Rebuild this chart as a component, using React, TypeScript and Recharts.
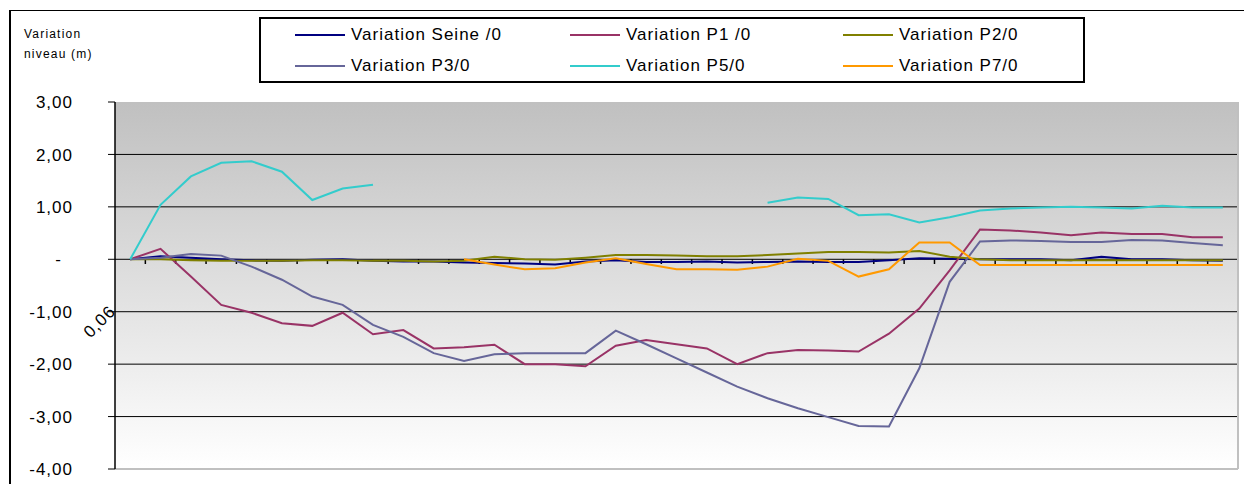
import React from "react";
import {
  LineChart,
  Line,
  XAxis,
  YAxis,
  CartesianGrid,
  ReferenceLine,
} from "recharts";

// 37 relevés (pas de libellés sur l'axe horizontal)
const POINTS = Array.from({ length: 37 }, (_, k) => k);

const SEINE = [
  0, 0.06, 0.03, 0.0, -0.02, -0.03, -0.01, 0.0, -0.03, -0.04, -0.04, -0.06,
  -0.07, -0.08, -0.1, -0.04, -0.02, -0.05, -0.05, -0.04, -0.06, -0.05, -0.04,
  -0.05, -0.05, -0.02, 0.02, 0.01, 0.0, 0.0, 0.0, -0.02, 0.05, 0.0, 0.0, -0.02,
  -0.03,
];
const P1 = [
  0, 0.2, -0.33, -0.87, -1.02, -1.22, -1.27, -1.02, -1.43, -1.35, -1.7, -1.68,
  -1.63, -2.0, -2.0, -2.04, -1.65, -1.54, -1.62, -1.7, -2.0, -1.79, -1.73,
  -1.74, -1.76, -1.42, -0.94, -0.21, 0.57, 0.55, 0.51, 0.46, 0.51, 0.48, 0.48,
  0.42, 0.42,
];
const P2 = [
  0, 0.0, -0.02, -0.03, -0.03, -0.03, -0.02, -0.02, -0.03, -0.03, -0.04, -0.03,
  0.05, 0.0, -0.01, 0.03, 0.08, 0.08, 0.07, 0.06, 0.06, 0.08, 0.11, 0.14, 0.14,
  0.13, 0.16, 0.05, 0.0, -0.02, -0.02, -0.02, -0.02, -0.02, -0.02, -0.02,
  -0.02,
];
const P3 = [
  0, 0.03, 0.1, 0.07, -0.14, -0.39, -0.71, -0.87, -1.25, -1.48, -1.79, -1.94,
  -1.81, -1.79, -1.79, -1.79, -1.36, -1.62, -1.89, -2.16, -2.43, -2.65, -2.84,
  -3.01, -3.18, -3.19, -2.08, -0.43, 0.34, 0.36, 0.35, 0.33, 0.33, 0.37, 0.36,
  0.31, 0.27,
];
const P5 = [
  0, 1.04, 1.58, 1.84, 1.87, 1.67, 1.13, 1.35, 1.42, null, null, null, null,
  null, null, null, null, null, null, null, null, 1.08, 1.18, 1.15, 0.84, 0.86,
  0.7, 0.8, 0.93, 0.97, 0.99, 1.0, 0.99, 0.97, 1.02, 0.99, 0.99,
];
const P7 = [
  null, null, null, null, null, null, null, null, null, null, null, 0, -0.1,
  -0.19, -0.17, -0.06, 0.02, -0.09, -0.19, -0.19, -0.2, -0.14, 0.01, -0.03,
  -0.33, -0.19, 0.32, 0.32, -0.11, -0.11, -0.11, -0.11, -0.11, -0.11, -0.11,
  -0.11, -0.11,
];

const Y_TICKS = [3, 2, 1, 0, -1, -2, -3, -4];

const SERIES = [
  { key: "seine", name: "Variation Seine /0", color: "#000080", values: SEINE },
  { key: "p1", name: "Variation P1 /0", color: "#993366", values: P1 },
  { key: "p2", name: "Variation P2/0", color: "#808000", values: P2 },
  { key: "p3", name: "Variation P3/0", color: "#666699", values: P3 },
  { key: "p5", name: "Variation P5/0", color: "#33CCCC", values: P5 },
  { key: "p7", name: "Variation P7/0", color: "#FF9900", values: P7 },
];

const data = POINTS.map((i, k) => {
  const row: any = { i };
  SERIES.forEach((s) => (row[s.key] = s.values[k]));
  return row;
});

// limites entre catégories (graduations style Excel)
const BOUNDARIES = POINTS.map((i) => i + 0.5);

const FONT = '"Liberation Sans", Arial, sans-serif';

const YTick = (props: any) => {
  const { x, y, payload } = props;
  const v = payload.value;
  const label = v === 0 ? "-" : v.toFixed(2).replace(".", ",");
  return (
    <text
      x={v === 0 ? x - 11 : x}
      y={y}
      dy="0.36em"
      textAnchor="end"
      fontSize={17}
      fontFamily={FONT}
      letterSpacing={1}
      fill="#000"
    >
      {label}
    </text>
  );
};

// positions des colonnes de la légende
const LEGEND_COLS = [36, 311, 584];

function Legend() {
  return (
    <div
      style={{
        position: "absolute",
        left: 259,
        top: 17,
        width: 826,
        height: 66,
        border: "2px solid #000",
        boxSizing: "border-box",
        background: "#fff",
      }}
    >
      {SERIES.map((s, idx) => {
        const col = idx % 3;
        const row = Math.floor(idx / 3);
        return (
          <div
            key={s.key}
            style={{
              position: "absolute",
              left: LEGEND_COLS[col] - 2,
              top: row * 31,
              height: 31,
              display: "flex",
              alignItems: "center",
              whiteSpace: "nowrap",
            }}
          >
            <div style={{ width: 50, height: 2, background: s.color }} />
            <span
              style={{
                marginLeft: 6,
                fontFamily: FONT,
                fontSize: 17,
                letterSpacing: 1,
                color: "#000",
              }}
            >
              {s.name}
            </span>
          </div>
        );
      })}
    </div>
  );
}

export default function App() {
  return (
    <div
      style={{
        position: "absolute",
        left: 0,
        top: 0,
        width: 1244,
        height: 484,
        background: "#fff",
        overflow: "hidden",
      }}
    >
      <LineChart
        width={1244}
        height={484}
        data={data}
        margin={{ top: 102, right: 6, bottom: 15, left: 0 }}
      >
        <defs>
          <linearGradient id="plotBg" x1="0" y1="0" x2="0" y2="1">
            <stop offset="0%" stopColor="#c0c0c0" />
            <stop offset="100%" stopColor="#ffffff" />
          </linearGradient>
        </defs>
        <CartesianGrid
          vertical={false}
          horizontalValues={[2, 1, 0, -1, -2, -3]}
          stroke="#000"
          strokeWidth={1}
          fill="url(#plotBg)"
          fillOpacity={1}
        />
        <XAxis
          type="number"
          dataKey="i"
          domain={[-0.5, 36.5]}
          allowDataOverflow
          hide
        />
        <YAxis
          domain={[-4, 3]}
          ticks={Y_TICKS}
          interval={0}
          width={115}
          tickSize={7}
          tickMargin={35}
          tick={YTick}
          axisLine={{ stroke: "#000", strokeWidth: 1.5 }}
          tickLine={{ stroke: "#000" }}
        />
        {BOUNDARIES.map((b) => (
          <ReferenceLine
            key={b}
            segment={[
              { x: b, y: 0 },
              { x: b, y: -0.09 },
            ]}
            stroke="#000"
            strokeWidth={1.5}
          />
        ))}
        <ReferenceLine x={36.5} stroke="#c0c0c0" strokeWidth={2} />
        <ReferenceLine y={-4} stroke="#c0c0c0" strokeWidth={2} />
        {SERIES.map((s) => (
          <Line
            key={s.key}
            type="linear"
            dataKey={s.key}
            name={s.name}
            stroke={s.color}
            strokeWidth={2}
            dot={false}
            activeDot={false}
            connectNulls={false}
            isAnimationActive={false}
          />
        ))}
      </LineChart>

      {/* cadre extérieur */}
      <div
        style={{
          position: "absolute",
          left: 9,
          top: 10,
          width: 1240,
          height: 480,
          borderTop: "1px solid #000",
          borderLeft: "2px solid #000",
          pointerEvents: "none",
        }}
      />

      {/* titre de l'axe vertical */}
      <div
        style={{
          position: "absolute",
          left: 24,
          top: 24,
          fontFamily: FONT,
          fontSize: 12,
          lineHeight: "20px",
          letterSpacing: 1.2,
          color: "#000",
        }}
      >
        Variation
        <br />
        niveau (m)
      </div>

      <Legend />

      {/* étiquette isolée */}
      <div
        style={{
          position: "absolute",
          left: 75,
          top: 312,
          width: 50,
          height: 20,
          lineHeight: "20px",
          textAlign: "center",
          fontFamily: FONT,
          fontSize: 17,
          letterSpacing: 1,
          transform: "rotate(-45deg)",
          color: "#000",
        }}
      >
        0,06
      </div>
    </div>
  );
}
